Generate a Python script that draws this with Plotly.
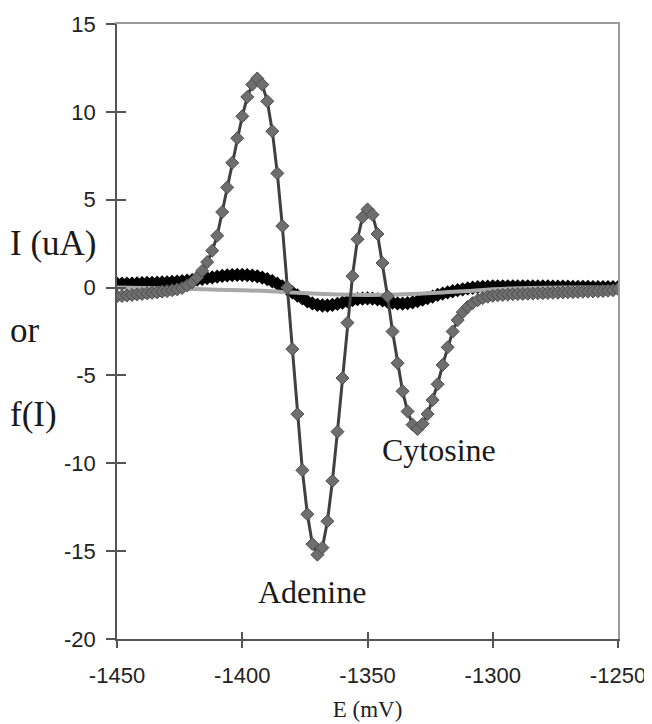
import plotly.graph_objects as go

# Potential grid (mV), 2 mV steps
E = list(range(-1450, -1249, 2))

# Grey-diamond curve (I, uA)
I_main = [
    -0.50, -0.48, -0.45, -0.42, -0.39, -0.36, -0.33, -0.30, -0.27, -0.23,
    -0.20, -0.15, -0.10, -0.02, 0.12, 0.30, 0.58, 0.95, 1.45, 2.10,
    2.95, 4.30, 5.70, 7.10, 8.50, 9.75, 10.85, 11.55, 11.90, 11.55,
    10.60, 8.90, 6.50, 3.50, 0.00, -3.50, -7.20, -10.40, -12.90, -14.60,
    -15.20, -14.80, -13.30, -11.00, -8.20, -5.15, -2.00, 0.65, 2.75, 4.00,
    4.45, 4.15, 3.05, 1.40, -0.50, -2.50, -4.30, -5.90, -7.05, -7.80,
    -8.05, -7.75, -7.20, -6.40, -5.50, -4.40, -3.40, -2.50, -1.85, -1.40,
    -1.10, -0.88, -0.72, -0.60, -0.52, -0.47, -0.44, -0.42, -0.40, -0.38,
    -0.37, -0.36, -0.35, -0.34, -0.33, -0.32, -0.31, -0.30, -0.29, -0.28,
    -0.27, -0.26, -0.25, -0.24, -0.23, -0.22, -0.21, -0.20, -0.18, -0.15,
    -0.08,
]

# Black-diamond curve
I_black = [
    0.22, 0.22, 0.23, 0.23, 0.24, 0.25, 0.26, 0.27, 0.28, 0.29,
    0.30, 0.32, 0.34, 0.36, 0.39, 0.42, 0.46, 0.50, 0.54, 0.58,
    0.62, 0.66, 0.69, 0.71, 0.72, 0.72, 0.71, 0.68, 0.64, 0.57,
    0.48, 0.36, 0.22, 0.06, -0.10, -0.27, -0.45, -0.62, -0.78, -0.90,
    -0.98, -1.02, -1.02, -0.99, -0.93, -0.86, -0.78, -0.71, -0.66, -0.63,
    -0.62, -0.63, -0.67, -0.73, -0.80, -0.86, -0.90, -0.91, -0.89, -0.84,
    -0.77, -0.69, -0.60, -0.51, -0.42, -0.34, -0.27, -0.21, -0.15, -0.10,
    -0.05, -0.01, 0.02, 0.04, 0.05, 0.06, 0.06, 0.07, 0.07, 0.07,
    0.07, 0.07, 0.07, 0.06, 0.06, 0.06, 0.06, 0.05, 0.05, 0.05,
    0.05, 0.04, 0.04, 0.04, 0.04, 0.03, 0.03, 0.03, 0.02, 0.02,
    0.02,
]

# Light grey line (10 mV steps)
E_line = list(range(-1450, -1249, 10))
I_line = [0.00, -0.02, -0.05, -0.08, -0.12, -0.15, -0.20, -0.28, -0.35, -0.40,
          -0.42, -0.40, -0.35, -0.28, -0.20, -0.10, -0.04, -0.01, 0.00, 0.00, 0.00]

x_ticks = [-1450, -1400, -1350, -1300, -1250]
x_labels = ["-1450", "-1400", "-1350", "-1300", "-1250"]
y_ticks = [15, 10, 5, 0, -5, -10, -15, -20]
y_labels = ["15", "10", "5", "0", "-5", "-10", "-15", "-20"]
X_RANGE = [-1450, -1250]
Y_RANGE = [-20, 15]

fig = go.Figure()
fig.add_trace(go.Scatter(
    x=E, y=I_black, mode="lines+markers",
    line=dict(color="#000000", width=2),
    marker=dict(symbol="diamond", size=11, color="#000000"),
    showlegend=False, hoverinfo="skip"))
fig.add_trace(go.Scatter(
    x=E_line, y=I_line, mode="lines", line_shape="spline",
    line=dict(color="#a8a8a8", width=4),
    showlegend=False, hoverinfo="skip"))
fig.add_trace(go.Scatter(
    x=E, y=I_main, mode="lines+markers",
    line=dict(color="#404040", width=3),
    marker=dict(symbol="diamond", size=10, color="#6e6e6e",
                line=dict(color="#4a4a4a", width=1)),
    showlegend=False, hoverinfo="skip"))

tickfont = dict(family="Liberation Sans, Arial", size=22, color="#222222")
serif = "Liberation Serif, Times New Roman"

# page body has an 8px default margin; size the figure to fit the window
fig.update_layout(
    width=644, height=716,
    margin=dict(l=109, r=34, t=16, b=85, autoexpand=False),
    paper_bgcolor="white", plot_bgcolor="white",
    xaxis=dict(range=X_RANGE, tickvals=x_ticks, ticktext=x_labels, ticks="outside",
               ticklen=7, automargin=False, ticklabelstandoff=9,
               tickcolor="#555", tickwidth=1.5, showline=True, linecolor="#555",
               linewidth=1.5, showgrid=False, zeroline=False, tickfont=tickfont,
               title=dict(text="E (mV)", font=dict(family=serif, size=23, color="#222"),
                          standoff=14)),
    yaxis=dict(range=Y_RANGE, tickvals=y_ticks, ticktext=y_labels, ticks="outside",
               ticklen=9, automargin=False, ticklabelstandoff=6,
               tickcolor="#555", tickwidth=1.5, showline=True, linecolor="#555",
               linewidth=1.5, showgrid=False, zeroline=False, tickfont=tickfont),
    xaxis2=dict(range=X_RANGE, overlaying="x", side="bottom", tickvals=x_ticks,
                ticks="inside", ticklen=7, tickcolor="#555", tickwidth=1.5,
                showticklabels=False, showline=False, showgrid=False, zeroline=False),
    xaxis3=dict(range=X_RANGE, overlaying="x", side="top", showline=True,
                linecolor="#9a9a9a", linewidth=2, ticks="", showticklabels=False,
                showgrid=False, zeroline=False),
    yaxis2=dict(range=Y_RANGE, overlaying="y", side="left", tickvals=y_ticks,
                ticks="inside", ticklen=9, tickcolor="#555", tickwidth=1.5,
                showticklabels=False, showline=False, showgrid=False, zeroline=False),
    yaxis3=dict(range=Y_RANGE, overlaying="y", side="right", showline=True,
                linecolor="#9a9a9a", linewidth=2, ticks="", showticklabels=False,
                showgrid=False, zeroline=False),
)

# dummy invisible traces to activate overlay axes
for xa, ya in [("x2", "y2"), ("x3", "y3")]:
    fig.add_trace(go.Scatter(x=[None], y=[None], xaxis=xa, yaxis=ya,
                             showlegend=False, hoverinfo="skip"))

ann_font = dict(family=serif, size=32, color="#1a1a1a")
fig.add_annotation(x=-1372.3, y=-17.3, text="Adenine", showarrow=False, font=ann_font)
fig.add_annotation(x=-1321.3, y=-9.25, text="Cytosine", showarrow=False, font=ann_font)

lab_font = dict(family=serif, size=35, color="#1a1a1a")
for txt, yp in [("I (uA)", 243), ("or", 330), ("f(I)", 414)]:
    fig.add_annotation(xref="paper", yref="paper", x=-109 / 501, xanchor="left",
                       y=(639 - yp) / 615, yanchor="middle", text=txt,
                       showarrow=False, font=lab_font)

fig.write_html("out.html")
